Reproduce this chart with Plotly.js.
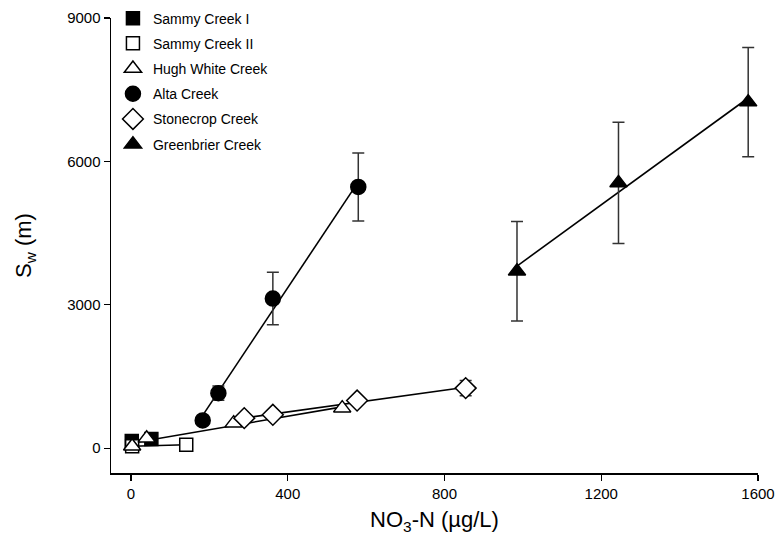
<!DOCTYPE html>
<html>
<head>
<meta charset="utf-8">
<script src="https://cdn.plot.ly/plotly-3.0.1.min.js"></script>
<style>html,body{margin:0;padding:0;background:#fff;}#chart{width:782px;height:538px;}</style>
</head>
<body>
<div id="chart"></div>
<script>
// ---- data ----
const seriesNames = ["Sammy Creek I", "Sammy Creek II", "Hugh White Creek", "Alta Creek", "Stonecrop Creek", "Greenbrier Creek"];

const sammyIX = [2, 52];
const sammyIY = [150, 190];
const sammyIErr = [0, 0];

const sammyIIX = [3, 141];
const sammyIIY = [40, 70];
const sammyIIErr = [0, 0];

const hughX = [3, 40, 262, 539];
const hughY = [40, 205, 523, 837];
const hughErr = [0, 0, 0, 0];

const altaX = [183, 223, 362, 580];
const altaY = [580, 1150, 3130, 5465];
const altaErr = [60, 150, 550, 710];

const stoneX = [289, 362, 577, 854];
const stoneY = [628, 697, 996, 1256];
const stoneErr = [40, 40, 60, 160];

const greenX = [985, 1244, 1575];
const greenY = [3700, 5550, 7240];
const greenErr = [1040, 1270, 1145];

const xTicks = [0, 400, 800, 1200, 1600];
const yTicks = [0, 3000, 6000, 9000];

// ---- styles ----
const styles = [
  {symbol: "square", color: "#000", fill: "#000", size: 13},
  {symbol: "square", color: "#000", fill: "#fff", size: 13},
  {symbol: "triangle-up", color: "#000", fill: "#fff", size: 15},
  {symbol: "circle", color: "#000", fill: "#000", size: 15},
  {symbol: "diamond", color: "#000", fill: "#fff", size: 16},
  {symbol: "triangle-up", color: "#000", fill: "#000", size: 15}
];
const data = [
  [sammyIX, sammyIY, sammyIErr],
  [sammyIIX, sammyIIY, sammyIIErr],
  [hughX, hughY, hughErr],
  [altaX, altaY, altaErr],
  [stoneX, stoneY, stoneErr],
  [greenX, greenY, greenErr]
];

function fit(xs, ys) {
  const n = xs.length;
  const mx = xs.reduce((a, b) => a + b, 0) / n;
  const my = ys.reduce((a, b) => a + b, 0) / n;
  let sxy = 0, sxx = 0;
  for (let i = 0; i < n; i++) { sxy += (xs[i] - mx) * (ys[i] - my); sxx += (xs[i] - mx) ** 2; }
  const b = sxy / sxx, a = my - b * mx;
  const x0 = Math.min(...xs), x1 = Math.max(...xs);
  return {x: [x0, x1], y: [a + b * x0, a + b * x1]};
}

const traces = [];
// regression lines first (under markers)
data.forEach((d, i) => {
  const f = fit(d[0], d[1]);
  traces.push({
    x: f.x, y: f.y, mode: "lines", type: "scatter",
    line: {color: "#000", width: 1.6},
    showlegend: false, hoverinfo: "skip", legendgroup: "g" + i
  });
});
data.forEach((d, i) => {
  const s = styles[i];
  const hasErr = d[2].some(v => v > 0);
  traces.push({
    x: d[0], y: d[1], mode: "markers", type: "scatter",
    name: seriesNames[i], legendgroup: "g" + i,
    marker: {
      symbol: s.symbol, size: s.size,
      color: s.fill, line: {color: s.color, width: 1.5}
    },
    error_y: hasErr ? {type: "data", array: d[2], visible: true, color: "#333", thickness: 1.5, width: 6} : {visible: false}
  });
});

const fontFam = "Liberation Sans, Arial, Helvetica, sans-serif";
const layout = {
  width: 782, height: 538,
  margin: {l: 111, r: 24, t: 18, b: 65, autoexpand: false},
  paper_bgcolor: "#fff", plot_bgcolor: "#fff",
  font: {family: fontFam, size: 14, color: "#000"},
  showlegend: true,
  legend: {
    x: 0.003, y: 1.034, xanchor: "left", yanchor: "top",
    bgcolor: "rgba(0,0,0,0)", borderwidth: 0,
    font: {family: fontFam, size: 14, color: "#000"},
    traceorder: "grouped", tracegroupgap: 4, itemsizing: "trace"
  },
  xaxis: {
    range: [-51, 1600], tickvals: xTicks, ticktext: xTicks.map(String),
    showline: true, linecolor: "#000", linewidth: 1.5,
    ticks: "outside", ticklen: 6, tickwidth: 1.2, tickcolor: "#000",
    showgrid: false, zeroline: false,
    tickfont: {family: fontFam, size: 15},
    title: {text: "NO<sub>3</sub>-N (\u00b5g/L)", font: {family: fontFam, size: 22}, standoff: 11}
  },
  yaxis: {
    range: [-520, 9000], tickvals: yTicks, ticktext: yTicks.map(String),
    showline: true, linecolor: "#000", linewidth: 1.5,
    ticks: "outside", ticklen: 6, tickwidth: 1.2, tickcolor: "#000",
    showgrid: false, zeroline: false,
    tickfont: {family: fontFam, size: 15},
    title: {text: "S<sub>w</sub> (m)", font: {family: fontFam, size: 22}, standoff: 29}
  }
};

Plotly.newPlot("chart", traces, layout, {staticPlot: true, displayModeBar: false});
</script>
</body>
</html>
